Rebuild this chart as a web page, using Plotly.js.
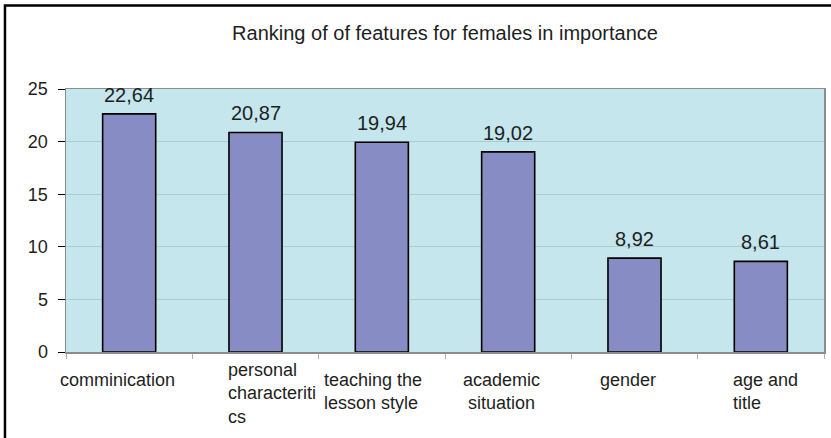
<!DOCTYPE html>
<html>
<head>
<meta charset="utf-8">
<script src="https://cdn.plot.ly/plotly-3.0.1.min.js"></script>
<style>
html,body{margin:0;padding:0;background:#fff;}
#chart{width:831px;height:438px;}
</style>
</head>
<body>
<div id="chart"></div>
<script>
// ---- data ----
const categories = ["comminication", "personal characteriti cs", "teaching the lesson style", "academic situation", "gender", "age and title"];
const categoryLabelLines = [
  ["comminication"],
  ["personal", "characteriti", "cs"],
  ["teaching the", "lesson style"],
  ["academic", "situation"],
  ["gender"],
  ["age and", "title"]
];
const values = [22.64, 20.87, 19.94, 19.02, 8.92, 8.61];
const yTickValues = [0, 5, 10, 15, 20, 25];
const chartTitle = "Ranking of of features for females in importance";

// ---- style (label placement tweaks) ----
const labelAlign = ["left", "left", "left", "center", "left", "left"];
const labelXShift = [-71, -30, -60, -7, -37, -30];
const labelYShift = [-16, -6, -16, -16, -16, -16];

const FONT = "Liberation Sans, Arial, sans-serif";
const TXT = "#1e1e1e";

const annotations = [];
values.forEach((v, i) => {
  annotations.push({
    x: categories[i], y: v, xref: "x", yref: "y",
    text: v.toFixed(2).replace(".", ","),
    showarrow: false, yanchor: "bottom", xanchor: "center", yshift: 6,
    font: {family: FONT, size: 20, color: TXT}
  });
});
categoryLabelLines.forEach((lines, i) => {
  annotations.push({
    x: categories[i], y: 0, xref: "x", yref: "paper",
    text: lines.join("<br>"),
    showarrow: false, yanchor: "top",
    xanchor: labelAlign[i] === "center" ? "center" : "left",
    align: labelAlign[i],
    xshift: labelXShift[i], yshift: labelYShift[i],
    font: {family: FONT, size: 18, color: TXT}
  });
});

const trace = {
  type: "bar",
  x: categories,
  y: values,
  marker: {color: "#878cc4", line: {color: "#000000", width: 1.6}},
  hoverinfo: "none"
};

const layout = {
  width: 831, height: 438,
  margin: {l: 66, r: 7, t: 89, b: 86},
  paper_bgcolor: "#ffffff",
  plot_bgcolor: "#c4e6ec",
  bargap: 0.58,
  showlegend: false,
  font: {family: FONT, color: TXT},
  title: {
    text: chartTitle,
    font: {family: FONT, size: 20, color: TXT},
    xref: "paper", x: 0.5, xanchor: "center",
    yref: "container", y: 0.925, yanchor: "middle"
  },
  xaxis: {
    type: "category",
    range: [-0.5, categories.length - 0.5],
    autorange: false,
    showticklabels: false,
    tickson: "boundaries",
    ticks: "outside", ticklen: 5, tickcolor: "#b0b0b0", tickwidth: 1,
    showline: true, linecolor: "#8c8c8c", linewidth: 1.5, mirror: true,
    showgrid: false, zeroline: false,
    fixedrange: true
  },
  yaxis: {
    range: [0, 25],
    autorange: false,
    tickvals: yTickValues,
    ticktext: yTickValues.map(String),
    ticks: "outside", ticklen: 7, tickcolor: "#000000", tickwidth: 1,
    ticklabelstandoff: 6,
    tickfont: {family: FONT, size: 18, color: TXT},
    showline: true, linecolor: "#8c8c8c", linewidth: 1.5, mirror: true,
    showgrid: true, gridcolor: "#a7cdd3", gridwidth: 1,
    zeroline: false,
    fixedrange: true
  },
  annotations: annotations,
  shapes: [{
    type: "rect", xref: "paper", yref: "paper",
    x0: -0.0805, x1: 1.03, y0: -0.36, y1: 1.3175,
    line: {color: "#000000", width: 2.5}, fillcolor: "rgba(0,0,0,0)", layer: "above"
  }]
};

Plotly.newPlot("chart", [trace], layout, {staticPlot: true, displayModeBar: false});
</script>
</body>
</html>
